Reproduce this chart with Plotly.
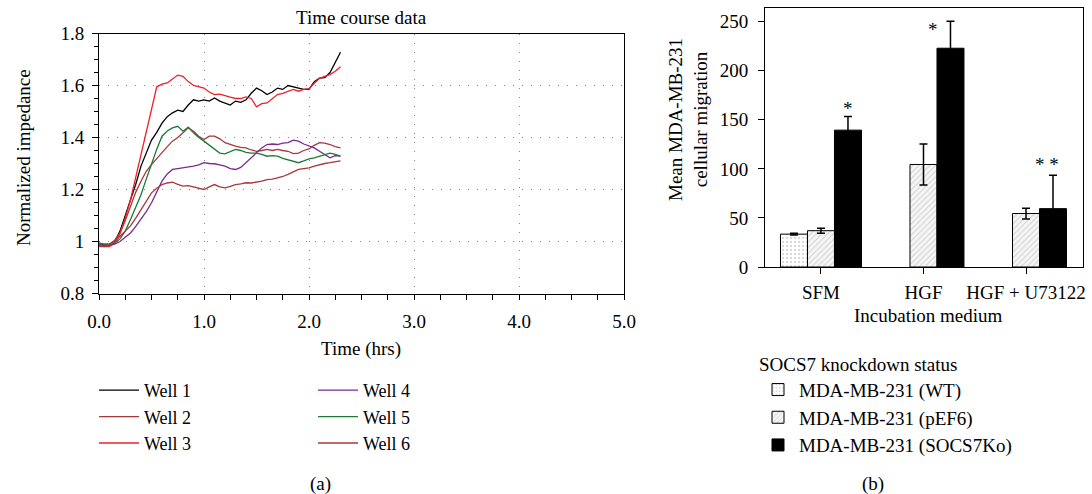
import plotly.graph_objects as go

W, H = 1092, 494
FONT = "Liberation Serif"

# ---------------- data: panel (a) ----------------
time_hrs = [0.00, 0.05, 0.10, 0.15, 0.20, 0.25, 0.30, 0.35, 0.40, 0.45,
            0.50, 0.55, 0.60, 0.65, 0.70, 0.75, 0.80, 0.85, 0.90, 0.95,
            1.00, 1.05, 1.10, 1.15, 1.20, 1.25, 1.30, 1.35, 1.40, 1.45,
            1.50, 1.55, 1.60, 1.65, 1.70, 1.75, 1.80, 1.85, 1.90, 1.95,
            2.00, 2.05, 2.10, 2.15, 2.20, 2.25, 2.30]

well1 = [0.990, 0.985, 0.985, 1.000, 1.040, 1.100, 1.160, 1.220, 1.290, 1.340,
         1.390, 1.420, 1.455, 1.480, 1.495, 1.505, 1.500, 1.525, 1.545, 1.540,
         1.545, 1.540, 1.552, 1.540, 1.533, 1.525, 1.540, 1.535, 1.545, 1.570,
         1.590, 1.580, 1.565, 1.575, 1.590, 1.585, 1.600, 1.595, 1.590, 1.585,
         1.585, 1.615, 1.628, 1.630, 1.650, 1.690, 1.728]
well2 = [0.990, 0.990, 0.990, 1.005, 1.033, 1.080, 1.136, 1.190, 1.232, 1.270,
         1.296, 1.320, 1.340, 1.365, 1.386, 1.400, 1.418, 1.437, 1.424, 1.405,
         1.392, 1.405, 1.405, 1.395, 1.380, 1.372, 1.367, 1.362, 1.360, 1.352,
         1.347, 1.350, 1.354, 1.350, 1.354, 1.350, 1.347, 1.338, 1.340, 1.350,
         1.356, 1.370, 1.380, 1.378, 1.373, 1.365, 1.360]
well3 = [0.985, 0.980, 0.980, 0.995, 1.030, 1.090, 1.160, 1.245, 1.330, 1.420,
         1.510, 1.595, 1.605, 1.610, 1.625, 1.640, 1.635, 1.615, 1.600, 1.595,
         1.590, 1.575, 1.565, 1.567, 1.560, 1.555, 1.550, 1.550, 1.556, 1.550,
         1.518, 1.530, 1.533, 1.550, 1.565, 1.570, 1.578, 1.585, 1.578, 1.585,
         1.588, 1.610, 1.628, 1.635, 1.642, 1.655, 1.672]
well4 = [0.990, 0.985, 0.985, 0.990, 1.000, 1.015, 1.033, 1.058, 1.085, 1.115,
         1.149, 1.190, 1.232, 1.260, 1.277, 1.280, 1.283, 1.285, 1.290, 1.295,
         1.303, 1.300, 1.299, 1.295, 1.290, 1.280, 1.277, 1.285, 1.303, 1.320,
         1.341, 1.360, 1.373, 1.375, 1.373, 1.378, 1.380, 1.390, 1.386, 1.375,
         1.367, 1.360, 1.347, 1.335, 1.322, 1.330, 1.328]
well5 = [0.995, 0.990, 0.990, 0.995, 1.010, 1.040, 1.085, 1.130, 1.180, 1.240,
         1.300, 1.355, 1.405, 1.425, 1.437, 1.443, 1.424, 1.440, 1.418, 1.400,
         1.386, 1.370, 1.354, 1.340, 1.337, 1.345, 1.354, 1.350, 1.343, 1.340,
         1.340, 1.335, 1.328, 1.330, 1.328, 1.320, 1.315, 1.310, 1.303, 1.310,
         1.318, 1.322, 1.328, 1.335, 1.340, 1.335, 1.328]
well6 = [0.980, 0.980, 0.985, 1.000, 1.020, 1.040, 1.060, 1.090, 1.123, 1.155,
         1.187, 1.205, 1.219, 1.225, 1.228, 1.220, 1.213, 1.215, 1.210, 1.205,
         1.200, 1.210, 1.219, 1.210, 1.206, 1.212, 1.219, 1.222, 1.226, 1.225,
         1.228, 1.232, 1.238, 1.240, 1.245, 1.250, 1.258, 1.268, 1.277, 1.280,
         1.283, 1.290, 1.296, 1.300, 1.303, 1.306, 1.310]

well_names = ["Well 1", "Well 2", "Well 3", "Well 4", "Well 5", "Well 6"]
well_series = [well1, well2, well3, well4, well5, well6]

x_tickvals = [0, 1, 2, 3, 4, 5]
x_ticktext = ["0.0", "1.0", "2.0", "3.0", "4.0", "5.0"]
y_tickvals = [0.8, 1.0, 1.2, 1.4, 1.6, 1.8]
y_ticktext = ["0.8", "1", "1.2", "1.4", "1.6", "1.8"]

# ---------------- data: panel (b) ----------------
media = ["SFM", "HGF", "HGF + U73122"]
status_names = ["MDA-MB-231 (WT)", "MDA-MB-231 (pEF6)", "MDA-MB-231 (SOCS7Ko)"]
wt_mean = [33.5, None, None]
wt_err = [1.0, None, None]
pef6_mean = [37.0, 104.5, 54.5]
pef6_err = [2.5, 21.0, 5.5]
ko_mean = [139.5, 223.0, 59.5]
ko_err = [14.0, 27.5, 34.0]
sig_text = ["*", "*", "* *"]

# ---------------- styles ----------------
well_colors = ["#000000", "#a8383a", "#f0202a", "#7a2a8c", "#1b7a38", "#a8383a"]
well_legends = ["legend", "legend", "legend", "legend2", "legend2", "legend2"]

fig = go.Figure()

for name, ys, col, lg in zip(well_names, well_series, well_colors, well_legends):
    fig.add_trace(go.Scatter(
        x=time_hrs, y=ys, mode="lines", name=name,
        line=dict(color=col, width=1.3), legend=lg, legendgroup=name,
        xaxis="x", yaxis="y"))

bar_line = dict(color="black", width=1)
fig.add_trace(go.Bar(
    x=media, y=wt_mean, name=status_names[0], legend="legend3", legendgroup="wt",
    marker=dict(color="white", line=bar_line,
                pattern=dict(shape=".", size=4, solidity=0.25, fgcolor="#b0b0b0", bgcolor="white")),
    error_y=dict(type="data", array=wt_err, color="black", thickness=1.5, width=4),
    xaxis="x2", yaxis="y2"))
fig.add_trace(go.Bar(
    x=media, y=pef6_mean, name=status_names[1], legend="legend3", legendgroup="pef6",
    marker=dict(color="white", line=bar_line,
                pattern=dict(shape="/", size=4, solidity=0.25, fgcolor="#a8a8a8", bgcolor="#f6f6f6")),
    error_y=dict(type="data", array=pef6_err, color="black", thickness=1.5, width=4),
    xaxis="x2", yaxis="y2"))
fig.add_trace(go.Bar(
    x=media, y=ko_mean, name=status_names[2], legend="legend3", legendgroup="ko",
    marker=dict(color="black", line=bar_line),
    error_y=dict(type="data", array=ko_err, color="black", thickness=1.5, width=4),
    xaxis="x2", yaxis="y2"))

def px(x):
    return x / W

def py(y):
    return 1 - y / H

tick_font = dict(family=FONT, size=19, color="black")
dotgrid = dict(showgrid=True, gridcolor="#8a8a8a", gridwidth=1, griddash="1px,8px")

annotations = []
def note(text, x, y, size=19, angle=0, xanchor="center"):
    annotations.append(dict(text=text, x=px(x), y=py(y), xref="paper", yref="paper",
                            showarrow=False, textangle=angle, xanchor=xanchor, yanchor="middle",
                            font=dict(family=FONT, size=size, color="black")))

note("Time course data", 361, 17)
note("Normalized impedance", 23, 158, angle=-90)
note("Time (hrs)", 361, 349)
note("(a)", 320, 484)
note("Mean MDA-MB-231<br>cellular migration", 688, 120, angle=-90)
note("Incubation medium", 928, 315)
note("(b)", 873, 484)

sig_xoff = [0.263, 0.263, 0.263]
sig_xshift = [0, -17, -6]
sig_yshift = [-5, -21, -2]
for i, t in enumerate(sig_text):
    annotations.append(dict(text=t, x=i + sig_xoff[i], y=ko_mean[i] + ko_err[i],
                            xref="x2", yref="y2", showarrow=False, xanchor="center",
                            yanchor="bottom", xshift=sig_xshift[i], yshift=sig_yshift[i],
                            font=dict(family=FONT, size=19, color="black")))

fig.update_layout(
    width=W, height=H, margin=dict(l=0, r=0, t=0, b=0, autoexpand=False),
    paper_bgcolor="white", plot_bgcolor="white",
    font=dict(family=FONT, size=19, color="black"),
    barmode="group", bargap=0.21, bargroupgap=0,
    annotations=annotations,
    xaxis=dict(domain=[px(99), px(624)], range=[0, 5], tickvals=x_tickvals, ticktext=x_ticktext,
               ticks="outside", ticklen=5, tickcolor="black", tickfont=tick_font,
               ticklabelstandoff=6, automargin=False,
               minor=dict(dtick=0.25, tick0=0, ticks="outside", ticklen=5, tickcolor="black", showgrid=False),
               showline=True, linecolor="black", linewidth=1, mirror=True, zeroline=False,
               anchor="y", **dotgrid),
    yaxis=dict(domain=[py(293.5), py(33.5)], range=[0.8, 1.8], tickvals=y_tickvals, ticktext=y_ticktext,
               ticks="outside", ticklen=6, tickcolor="black", tickfont=tick_font,
               ticklabelstandoff=4, automargin=False,
               minor=dict(dtick=0.05, tick0=0.8, ticks="outside", ticklen=4, tickcolor="black", showgrid=False),
               showline=True, linecolor="black", linewidth=1, mirror=True, zeroline=False,
               anchor="x", **dotgrid),
    xaxis2=dict(domain=[px(765), px(1083)], type="category", categoryorder="array", categoryarray=media,
                range=[-0.546, 2.556], ticks="outside", ticklen=6, tickcolor="black", tickfont=tick_font,
                ticklabelstandoff=2, automargin=False,
                showline=True, linecolor="black", linewidth=1, mirror=True, showgrid=False,
                zeroline=False, anchor="y2"),
    yaxis2=dict(domain=[py(267), py(8)], range=[0, 264], tickvals=[0, 50, 100, 150, 200, 250],
                ticks="outside", ticklen=6, tickcolor="black", tickfont=tick_font,
                ticklabelstandoff=6, automargin=False,
                showline=True, linecolor="black", linewidth=1, mirror=True, showgrid=False,
                zeroline=False, anchor="x2"),
    legend=dict(x=px(94), y=py(372), xanchor="left", yanchor="top", orientation="v",
                bgcolor="rgba(0,0,0,0)", tracegroupgap=0, itemwidth=40,
                font=dict(family=FONT, size=18)),
    legend2=dict(x=px(313), y=py(372), xanchor="left", yanchor="top", orientation="v",
                 bgcolor="rgba(0,0,0,0)", tracegroupgap=0, itemwidth=40,
                 font=dict(family=FONT, size=18)),
    legend3=dict(x=px(757), y=py(346), xanchor="left", yanchor="top", orientation="v",
                 bgcolor="rgba(0,0,0,0)", tracegroupgap=0, itemwidth=32,
                 font=dict(family=FONT, size=19),
                 title=dict(text="SOCS7 knockdown status", font=dict(family=FONT, size=19))),
)

fig.write_html("out.html", config={"displayModeBar": False},
               post_script="document.body.style.margin='0px';document.body.style.overflow='hidden';")
